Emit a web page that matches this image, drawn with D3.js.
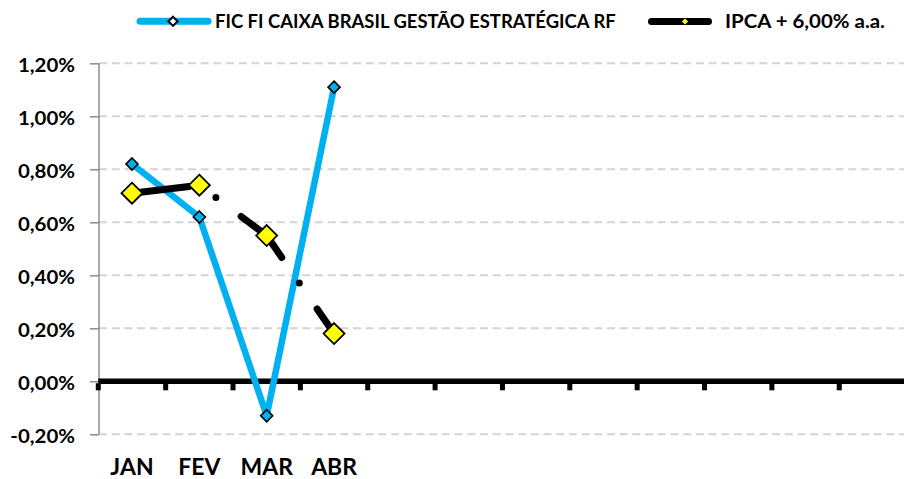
<!DOCTYPE html>
<html><head><meta charset="utf-8">
<script src="https://cdn.jsdelivr.net/npm/d3@7"></script>
<style>
html,body{margin:0;padding:0;background:#fff;}
svg{display:block;}
text{font-family:Lato,"Open Sans",sans-serif;font-weight:bold;fill:#000;}
</style>
</head><body>
<svg id="c" width="904" height="479"></svg>
<script>
const categories = ["JAN","FEV","MAR","ABR","","","","","","","",""];
const fundName = "FIC FI CAIXA BRASIL GESTÃO ESTRATÉGICA RF";
const fundValues = [0.82, 0.62, -0.13, 1.11];
const ipcaName = "IPCA + 6,00% a.a.";
const ipcaValues = [0.71, 0.74, 0.55, 0.18];
const yTickValues = [-0.2, 0, 0.2, 0.4, 0.6, 0.8, 1.0, 1.2];
const yTickLabels = ["-0,20%","0,00%","0,20%","0,40%","0,60%","0,80%","1,00%","1,20%"];

const BLUE = "#00B0F0", YELLOW = "#FFFF00";
const svg = d3.select("#c");

const x = d3.scaleBand().domain(d3.range(categories.length)).range([98.3, 906.6]).paddingInner(0).paddingOuter(0);
const y = d3.scaleLinear().domain([-0.2, 1.2]).range([434.3, 63.3]);
const cx = i => x(i) + x.bandwidth() / 2;

// horizontal stretch factors (the reference text is horizontally stretched)
function natWidth(str, size) {
  const t = svg.append("text").attr("font-size", size).text(str);
  const w = t.node().getComputedTextLength();
  t.remove();
  return w;
}
const kLegend = 401 / natWidth(fundName, 18);
const kText = 160 / natWidth(ipcaName, 18);

function stext(g, tx, ty, size, anchor, str, k) {
  return g.append("text")
    .attr("transform", `translate(${tx},${ty}) scale(${k},1)`)
    .attr("font-size", size).attr("text-anchor", anchor).text(str);
}

// gridlines
const grid = svg.append("g");
grid.selectAll("line").data(yTickValues.filter(v => v !== 0)).join("line")
  .attr("x1", 99).attr("x2", 904)
  .attr("y1", d => y(d)).attr("y2", d => y(d))
  .attr("stroke", "#D4D4D4").attr("stroke-width", 2).attr("stroke-dasharray", "8 4.7");

// y axis
const yAxis = svg.append("g").attr("transform", "translate(99,0)")
  .call(d3.axisLeft(y).tickValues(yTickValues).tickSize(9).tickFormat(""));
yAxis.select(".domain").attr("stroke", "#8C8C8C").attr("stroke-width", 1.5).attr("d", `M0,${y(1.2)}V${y(-0.2)}`);
yAxis.selectAll(".tick line").attr("stroke", "#8C8C8C").attr("stroke-width", 1.5);

const ylab = svg.append("g");
yTickValues.forEach((v, i) => stext(ylab, 75, y(v) + 9, 18, "end", yTickLabels[i], kText));

// x axis at zero
const xAxis = svg.append("g").attr("transform", `translate(0,${y(0)})`)
  .call(d3.axisBottom(x).tickSize(0).tickFormat(""));
xAxis.select(".domain").attr("stroke", "#000").attr("stroke-width", 5.5).attr("d", `M${x(0)},0H904`);
xAxis.selectAll(".tick").remove();
const xt = svg.append("g");
xt.selectAll("rect").data(d3.range(categories.length + 1)).join("rect")
  .attr("x", d => (d < categories.length ? x(d) : x(categories.length - 1) + x.bandwidth()) - 2.5)
  .attr("y", y(0) + 2).attr("width", 5).attr("height", 7).attr("fill", "#000");

const xl = svg.append("g");
categories.forEach((c, i) => { if (c) stext(xl, cx(i), 475, 22, "middle", c, kText * 0.92); });

// lines
const line = d3.line().x((d, i) => cx(i)).y(d => y(d));
const diamond = r => `M0,${-r}L${r},0L0,${r}L${-r},0Z`;

svg.append("path").datum(fundValues).attr("d", line)
  .attr("fill", "none").attr("stroke", BLUE).attr("stroke-width", 6.5)
  .attr("stroke-linejoin", "round").attr("stroke-linecap", "round");

svg.append("path").datum(ipcaValues).attr("d", line)
  .attr("fill", "none").attr("stroke", "#000").attr("stroke-width", 7)
  .attr("stroke-linejoin", "round").attr("stroke-linecap", "round")
  .attr("stroke-dasharray", "58.5 31 0 31.5").attr("stroke-dashoffset", 1);

svg.append("g").selectAll("path").data(fundValues).join("path")
  .attr("transform", (d, i) => `translate(${cx(i)},${y(d)})`)
  .attr("d", diamond(6)).attr("fill", BLUE).attr("stroke", "#000").attr("stroke-width", 1.6);

svg.append("g").selectAll("path").data(ipcaValues).join("path")
  .attr("transform", (d, i) => `translate(${cx(i)},${y(d)})`)
  .attr("d", diamond(10.5)).attr("fill", YELLOW).attr("stroke", "#000").attr("stroke-width", 1.8);

// legend
const lg = svg.append("g");
lg.append("line").attr("x1", 140).attr("x2", 208).attr("y1", 21.3).attr("y2", 21.3)
  .attr("stroke", BLUE).attr("stroke-width", 7).attr("stroke-linecap", "round");
lg.append("path").attr("transform", "translate(173,21.3)").attr("d", diamond(4.6))
  .attr("fill", "#fff").attr("stroke", "#000").attr("stroke-width", 2);
stext(lg, 215, 28.3, 18, "start", fundName, kLegend);

lg.append("line").attr("x1", 651.5).attr("x2", 708.5).attr("y1", 21.5).attr("y2", 21.5)
  .attr("stroke", "#000").attr("stroke-width", 7).attr("stroke-linecap", "round");
lg.append("path").attr("transform", "translate(685,21.5)").attr("d", diamond(3.4))
  .attr("fill", YELLOW).attr("stroke", "#000").attr("stroke-width", 0.8);
stext(lg, 725, 28.3, 18, "start", ipcaName, kText);
</script>
</body></html>
